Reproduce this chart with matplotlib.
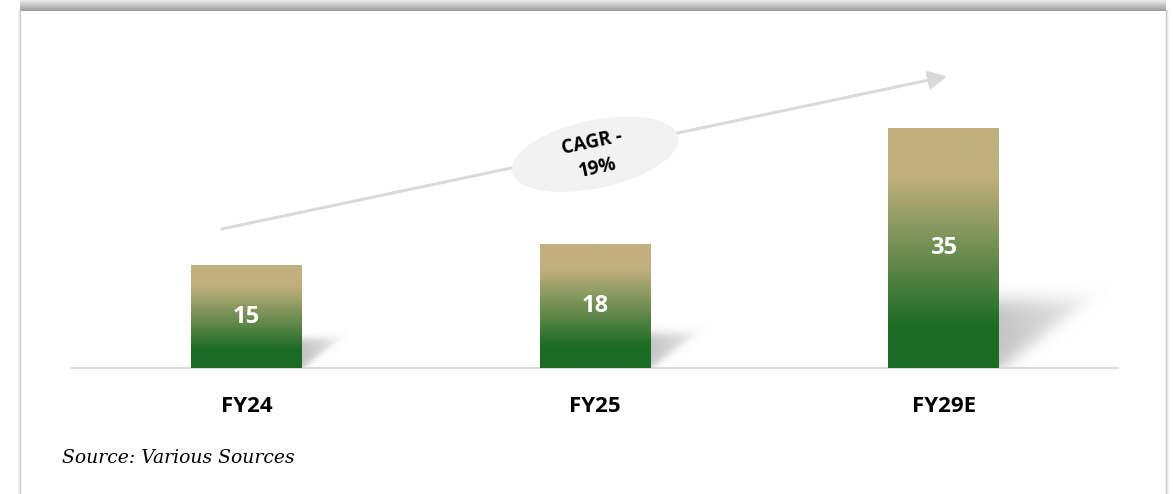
import numpy as np
import matplotlib
matplotlib.use('Agg')
import matplotlib.pyplot as plt
from matplotlib.colors import LinearSegmentedColormap
from matplotlib.patches import Ellipse
from matplotlib.transforms import ScaledTranslation

categories = ['FY24', 'FY25', 'FY29E']
values = [15, 18, 35]
cagr_label = 'CAGR -\n19%'
source_note = 'Source: Various Sources'

W, H = 1173, 494
fig = plt.figure(figsize=(W / 100, H / 100), dpi=100)

# card frame, drawn in pixel coordinates
bg = fig.add_axes([0, 0, 1, 1], zorder=0)
bg.set_xlim(0, W)
bg.set_ylim(H, 0)
bg.axis('off')
band_cmap = LinearSegmentedColormap.from_list('band', ['#ececec', '#9b9b9b'])
bg.imshow(np.linspace(0, 1, 30).reshape(-1, 1), cmap=band_cmap,
          extent=[20, 1166, 11, 0], aspect='auto')
for dx, a in [(0, 0.9), (-1, 0.35), (-2, 0.15)]:
    bg.plot([20 + dx, 20 + dx], [10, H], color='#c8c8c8', lw=1, alpha=a)
    bg.plot([1166 - dx, 1166 - dx], [10, H], color='#c8c8c8', lw=1, alpha=a)

ax = fig.add_axes([72 / W, (H - 368) / H, (1118 - 72) / W, 342.5 / H], zorder=1)
ax.patch.set_alpha(0)

x = np.arange(len(categories))
bars = ax.bar(x, values, width=0.318, color='none', edgecolor='none')

bar_cmap = LinearSegmentedColormap.from_list(
    'bar', [(0, '#1b6b25'), (0.17, '#1b6b25'), (0.8, '#c1b07d'), (1, '#c1b07d')])
grad = np.linspace(0, 1, 256).reshape(-1, 1)
sig = lambda z: 1 / (1 + np.exp(-z))

for rect in bars:
    x0, w, v = rect.get_x(), rect.get_width(), rect.get_height()
    ax.imshow(grad, cmap=bar_cmap, origin='lower', aspect='auto',
              extent=[x0, x0 + w, 0, v], zorder=3)

    # soft perspective shadow on the right of the bar
    xr = x0 + w
    hs = 0.28 * v
    ext = 0.0069 * v
    u = np.linspace(0, 1.3, 200)
    t = np.linspace(0, 1.3, 150)
    U, T = np.meshgrid(u, t)
    alpha = sig((T - U + 0.03) / 0.08) * sig((1 - T) / 0.08) * (1 - 0.5 * np.clip(U, 0, 1))
    img = np.zeros((len(t), len(u), 4))
    img[..., :3] = 0.42
    img[..., 3] = alpha * 0.4
    ax.imshow(img, origin='lower', aspect='auto',
              extent=[xr, xr + ext * 1.3, 0, hs * 1.3], zorder=2)

    ax.text(rect.get_x() + w / 2, v / 2, str(v), color='white', fontsize=17,
            fontweight='bold', family='Open Sans', ha='center', va='center', zorder=4)

# growth arrow with CAGR bubble
ax.annotate('', xy=(2.01, 42.6), xytext=(-0.07, 20.3),
            arrowprops=dict(arrowstyle='-|>,head_length=0.55,head_width=0.28',
                            color='#d9d9d9', lw=2.2, mutation_scale=20,
                            shrinkA=0, shrinkB=0), zorder=5)
trans = fig.dpi_scale_trans + ScaledTranslation(1.0, 31.2, ax.transData)
ax.add_patch(Ellipse((0, 0), 1.70, 0.68, angle=12, transform=trans,
                     facecolor='#f2f2f2', edgecolor='none', zorder=6))
ax.text(1.0, 31.0, cagr_label, fontsize=13.5, fontweight='bold', family='Open Sans',
        ha='center', va='center', rotation=12, rotation_mode='anchor',
        linespacing=1.4, zorder=7)

ax.set_xlim(-0.5, 2.5)
ax.set_ylim(0, 50)
ax.set_xticks(x, categories, fontsize=16, fontweight='bold', family='Open Sans')
ax.tick_params(axis='x', length=0, pad=20)
ax.set_yticks([])
for s in ['top', 'left', 'right']:
    ax.spines[s].set_visible(False)
ax.spines['bottom'].set_color('#d9d9d9')
ax.spines['bottom'].set_linewidth(1.5)

fig.text(62 / W, 1 - 463 / H, source_note, style='italic', family='DejaVu Serif',
         fontsize=13.5, va='baseline', ha='left')

fig.savefig('out.png', dpi=100)
